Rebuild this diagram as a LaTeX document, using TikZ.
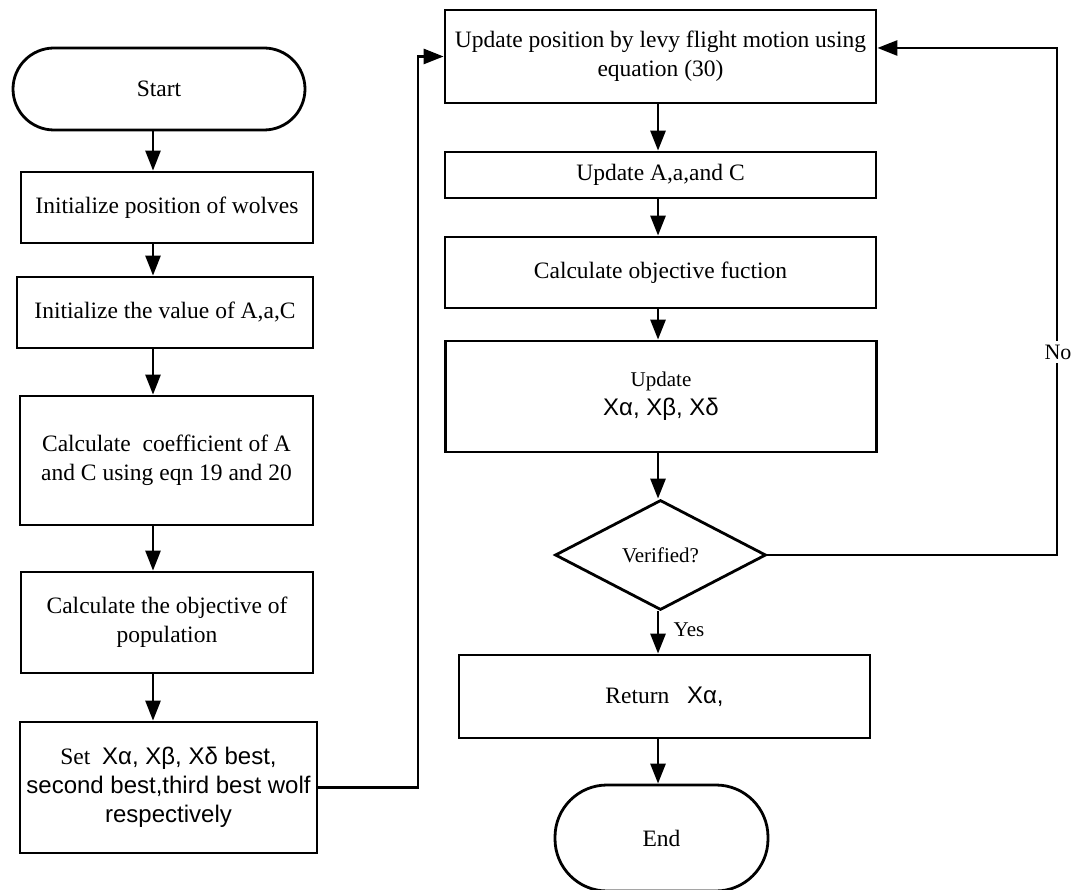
\documentclass[tikz,border=0pt]{standalone}
\usepackage{fontspec}
\setmainfont{Liberation Serif}
\newfontfamily\grk{Liberation Sans}
\usetikzlibrary{arrows.meta,shapes.geometric}
\tikzset{
  box/.style={draw, line width=2.8pt, rectangle, align=center, font=\fontsize{23.5}{29}\selectfont, inner sep=0pt},
  term/.style={draw, line width=2.8pt, rectangle, align=center, font=\fontsize{23.5}{29}\selectfont, inner sep=0pt},
  dec/.style={draw, line width=2.8pt, diamond, align=center, inner sep=0pt, font=\fontsize{21}{26}\selectfont},
  arr/.style={line width=2.8pt, -{Triangle[length=20pt,width=15pt]}},
  lbl/.style={font=\fontsize{21}{26}\selectfont, inner sep=2pt},
}
\newcommand{\gx}[1]{{\grk\fontsize{24}{31}\selectfont #1}}
\begin{document}
\begin{tikzpicture}[x=1pt,y=-1pt]
\useasboundingbox (0,0) rectangle (1074,890);
% left column
\node[term, rounded corners=41pt, minimum width=292pt, minimum height=82pt] (start) at (159,89) {Start};
\node[box, minimum width=292pt, minimum height=71pt] (init) at (167,207.5) {Initialize position of wolves};
\node[box, minimum width=296pt, minimum height=71pt] (initv) at (165,312.5) {Initialize the value of A,a,C};
\node[box, minimum width=293pt, minimum height=129pt] (coef) at (166.5,460.5) {Calculate\ \ coefficient of A\\and C using eqn 19 and 20};
\node[box, minimum width=292pt, minimum height=101pt] (obj) at (167,622.5) {Calculate the objective of\\population};
\node[box, minimum width=297pt, minimum height=131pt] (set) at (168.5,787.5) {Set\ \ \gx{Xα, Xβ, Xδ best,}\\\gx{second best,third best wolf}\\\gx{respectively}};
% right column
\node[box, minimum width=431pt, minimum height=93pt] (upd) at (660.5,56.5) {Update position by levy flight motion using\\equation (30)};
\node[box, minimum width=431pt, minimum height=46pt] (upda) at (660.5,175) {Update A,a,and C};
\node[box, minimum width=431pt, minimum height=71pt] (calc) at (660.5,272.5) {Calculate objective fuction};
\node[box, minimum width=431pt, minimum height=111pt] (updx) at (661,396.5) {{\fontsize{21}{26}\selectfont Update}\\\gx{Xα, Xβ, Xδ}};
\node[dec, minimum width=211pt, minimum height=110pt] (ver) at (660.5,555) {Verified?};
\node[box, minimum width=411pt, minimum height=83pt] (ret) at (664.5,696.5) {Return\ \ \ \gx{Xα,}};
\node[term, rounded corners=52pt, minimum width=213pt, minimum height=106pt] (endn) at (661.5,838) {End};
% column coordinates
\coordinate (cl) at (153,0);
\coordinate (cr) at (658,0);
\coordinate (jx) at (418,0);
\coordinate (nx) at (1057,0);
% arrows left
\draw[arr] (start.south -| cl) -- (init.north -| cl);
\draw[arr] (init.south -| cl) -- (initv.north -| cl);
\draw[arr] (initv.south -| cl) -- (coef.north -| cl);
\draw[arr] (coef.south -| cl) -- (obj.north -| cl);
\draw[arr] (obj.south -| cl) -- (set.north -| cl);
% connector to right column
\draw[arr] (set.east) -- (set.east -| jx) -- (jx |- upd.west) -- (upd.west);
% arrows right
\draw[arr] (upd.south -| cr) -- (upda.north -| cr);
\draw[arr] (upda.south -| cr) -- (calc.north -| cr);
\draw[arr] (calc.south -| cr) -- (updx.north -| cr);
\draw[arr] (updx.south -| cr) -- (ver.north -| cr);
\draw[arr] (ver.south -| cr) -- (ret.north -| cr);
\node[lbl] (yes) at (689,630) {Yes};
\draw[arr] (ret.south -| cr) -- (endn.north -| cr);
% No loop
\coordinate (ntop) at ([yshift=8.5pt]upd.east);
\draw[arr] (ver.east) -- (ver.east -| nx) -- (nx |- ntop) -- (ntop);
\node[lbl, fill=white, inner sep=4pt, font=\fontsize{22}{26}\selectfont] (no) at (1058,352) {No};
\end{tikzpicture}
\end{document}
